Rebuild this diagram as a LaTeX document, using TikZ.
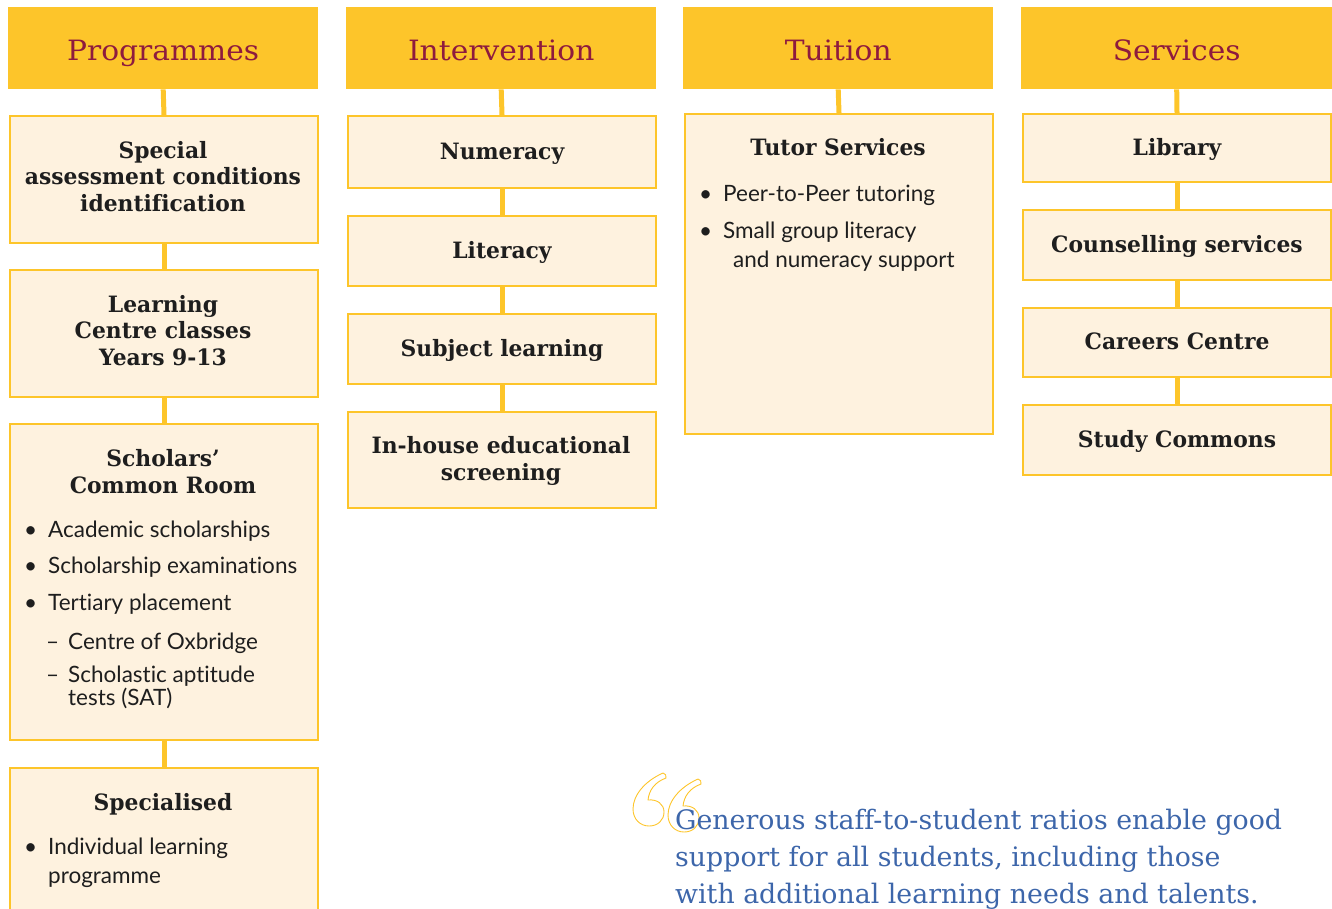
\documentclass[tikz,border=0pt]{standalone}
\usepackage{fontspec}
\setmainfont[Ligatures=NoCommon,RawFeature={-liga,-clig,-calt,-dlig}]{Lato}
\newfontfamily\headfont[FakeStretch=1.06]{DejaVu Serif}
\newfontfamily\titlefont[FakeStretch=0.97,Ligatures=NoCommon]{DejaVu Serif}
\newfontfamily\quotefont[Ligatures=NoCommon]{DejaVu Serif}
\definecolor{gold}{HTML}{FDC52A}
\definecolor{cream}{HTML}{FEF2DF}
\definecolor{maroon}{HTML}{8E1B3E}
\definecolor{ink}{HTML}{1E1E1E}
\definecolor{qblue}{HTML}{3D66AA}
\tikzset{
  hdr/.style={fill=gold, minimum height=82pt, anchor=north west, inner sep=0pt,
    text height=24pt, text depth=0pt,
    font=\headfont\fontsize{28}{30}\selectfont, text=maroon},
  box/.style={draw=gold, line width=2pt, fill=cream, anchor=north west, inner sep=0pt,
    minimum width=308pt, align=center, text=ink,
    font=\titlefont\bfseries\fontsize{22.5}{26.5}\selectfont},
  one/.style={text height=14pt, text depth=0pt},
  conn/.style={draw=gold, line width=5pt},
  ttl/.style={align=center, inner sep=0pt, text=ink,
    font=\titlefont\bfseries\fontsize{22.5}{26.5}\selectfont},
  bl/.style={anchor=base west, inner sep=0pt, text=ink, font=\fontsize{22.5}{26}\selectfont},
  qt/.style={anchor=base west, inner sep=0pt, text=qblue, font=\quotefont\fontsize{26.8}{30}\selectfont},
  qmark/.style={draw=gold, line width=0.9pt, line join=round}
}
\begin{document}
\begin{tikzpicture}[x=1pt,y=-1pt]
\path[use as bounding box, clip] (0,0) rectangle (1332,908);
% headers
\node[hdr, minimum width=310pt] (h1) at (8,7) {Programmes};
\node[hdr, minimum width=310pt] (h2) at (346,7) {Intervention};
\node[hdr, minimum width=310pt] (h3) at (683,7) {Tuition};
\node[hdr, minimum width=311pt] (h4) at (1021,7) {Services};
% column 1
\node[box, minimum height=127pt] (b11) at (9,115) {};
\node[box, minimum height=127pt] (b12) at (9,269) {};
\node[box, minimum height=316pt] (b13) at (9,423) {};
\node[box, minimum height=173pt] (b14) at (9,767) {};
% column 2
\node[box, one, minimum height=72pt] (b21) at (347,115) {Numeracy};
\node[box, one, minimum height=70pt] (b22) at (347,215) {Literacy};
\node[box, one, minimum height=70pt] (b23) at (347,313) {Subject learning};
\node[box, minimum height=96pt] (b24) at (347,411) {};
% column 3
\node[box, minimum height=320pt] (b31) at (684,113) {};
% column 4
\node[box, one, minimum height=68pt] (b41) at (1022,113) {Library};
\node[box, one, minimum height=70pt] (b42) at (1022,209) {Counselling services};
\node[box, one, minimum height=69pt] (b43) at (1022,307) {Careers Centre};
\node[box, one, minimum height=70pt] (b44) at (1022,404) {Study Commons};
% connectors
\draw[conn] (h1.south) -- (b11.north);
\draw[conn] (b11.south) -- (b12.north);
\draw[conn] (b12.south) -- (b13.north);
\draw[conn] (b13.south) -- (b14.north);
\draw[conn] (h2.south) -- (b21.north);
\draw[conn] (b21.south) -- (b22.north);
\draw[conn] (b22.south) -- (b23.north);
\draw[conn] (b23.south) -- (b24.north);
\draw[conn] (h3.south) -- (b31.north);
\draw[conn] (h4.south) -- (b41.north);
\draw[conn] (b41.south) -- (b42.north);
\draw[conn] (b42.south) -- (b43.north);
\draw[conn] (b43.south) -- (b44.north);
% multi-line titles
\node[ttl, anchor=base] (t11a) at (163,158) {Special};
\node[ttl, anchor=base] (t11b) at (163,184.5) {assessment conditions};
\node[ttl, anchor=base] (t11c) at (163,211) {identification};
\node[ttl, anchor=base] (t12a) at (163,312) {Learning};
\node[ttl, anchor=base] (t12b) at (163,338.5) {Centre classes};
\node[ttl, anchor=base] (t12c) at (163,365) {Years 9-13};
\node[ttl, anchor=base] (t24a) at (501,453) {In-house educational};
\node[ttl, anchor=base] (t24b) at (501,480) {screening};
% box 13 content
\node[ttl, anchor=base] (t13a) at (163,466) {Scholars’};
\node[ttl, anchor=base] (t13b) at (163,493) {Common Room};
\node[bl] (d131) at (24,537) {•};
\node[bl] (l131) at (48,537) {Academic scholarships};
\node[bl] (d132) at (24,573) {•};
\node[bl] (l132) at (48,573) {Scholarship examinations};
\node[bl] (d133) at (24,610) {•};
\node[bl] (l133) at (48,610) {Tertiary placement};
\node[bl] (d134) at (46,649) {–};
\node[bl] (l134) at (68,649) {Centre of Oxbridge};
\node[bl] (d135) at (46,682) {–};
\node[bl] (l135) at (68,682) {Scholastic aptitude};
\node[bl] (l136) at (68,705) {tests (SAT)};
% box 14 content
\node[ttl, anchor=base] (t14) at (163,810) {Specialised};
\node[bl] (d141) at (24,854) {•};
\node[bl] (l141) at (48,854) {Individual learning};
\node[bl] (l142) at (48,883) {programme};
% box 31 content
\node[ttl, anchor=base] (t31) at (838,155) {Tutor Services};
\node[bl] (d311) at (699,201) {•};
\node[bl] (l311) at (723,201) {Peer-to-Peer tutoring};
\node[bl] (d312) at (699,238) {•};
\node[bl] (l312) at (723,238) {Small group literacy};
\node[bl] (l313) at (733,267) {and numeracy support};
% quote marks
\draw[qmark] (663,773) .. controls (645,781) and (633,795) .. (633,809)
  .. controls (633,819) and (640,826) .. (649,826)
  .. controls (658,826) and (664,820) .. (664,812)
  .. controls (664,804) and (657,799) .. (648,800)
  .. controls (649,790) and (655,782) .. (666,778)
  .. controls (667,776) and (665,773) .. (663,773) -- cycle;
\draw[qmark] (698,779) .. controls (680,787) and (668,801) .. (668,815)
  .. controls (668,825) and (675,832) .. (684,832)
  .. controls (693,832) and (699,826) .. (699,818)
  .. controls (699,810) and (692,805) .. (683,806)
  .. controls (684,796) and (690,788) .. (701,784)
  .. controls (702,782) and (700,779) .. (698,779) -- cycle;
% quote text
\node[qt] (q1) at (675,829) {Generous staff-to-student ratios enable good};
\node[qt] (q2) at (675,866) {support for all students, including those};
\node[qt] (q3) at (675,903) {with additional learning needs and talents.};
\end{tikzpicture}
\end{document}
